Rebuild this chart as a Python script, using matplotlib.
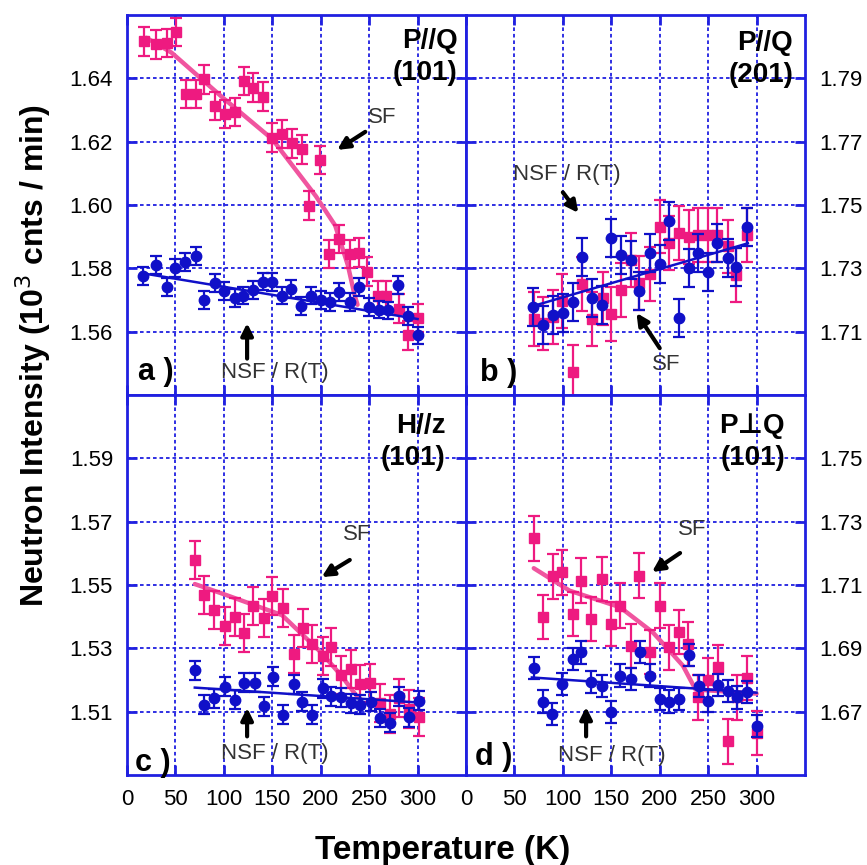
import numpy as np
import matplotlib
matplotlib.use("Agg")
import matplotlib.pyplot as plt

plt.rcParams['font.family'] = ['Liberation Sans', 'DejaVu Sans']

PINK = "#ee1a80"
PINK_FIT = "#f0559f"
BLUE = "#1010c8"
FRAME = "#2020e0"

# ---------- data (T in K, intensity in 10^3 cnts/min) ----------
# (a) P//Q (101)
a_sf_T = [18, 30, 41, 51, 61, 71, 80, 91, 101, 111, 121, 130, 140, 150, 160, 170,
          181, 188, 199, 209, 219, 230, 240, 248, 259, 267, 281, 290, 300]
a_sf_I = [1.6517, 1.6507, 1.6512, 1.6547, 1.6350, 1.6350, 1.6397, 1.6313, 1.6287,
          1.6293, 1.6392, 1.6371, 1.6342, 1.6213, 1.6224, 1.6195, 1.6176, 1.5998,
          1.6142, 1.5846, 1.5893, 1.5846, 1.5850, 1.5790, 1.5714, 1.5714, 1.5673,
          1.5588, 1.5643]
a_nsf_T = [17, 30, 41, 50, 60, 71, 79, 91, 100, 111, 120, 130, 140, 150, 160, 169,
           180, 190, 200, 210, 219, 230, 240, 250, 260, 269, 280, 290, 300]
a_nsf_I = [1.5775, 1.5811, 1.5740, 1.5800, 1.5821, 1.5840, 1.5700, 1.5754, 1.5728,
           1.5706, 1.5714, 1.5732, 1.5758, 1.5757, 1.5714, 1.5735, 1.5681, 1.5714,
           1.5700, 1.5694, 1.5725, 1.5694, 1.5740, 1.5678, 1.5670, 1.5667, 1.5748,
           1.5650, 1.5588]
a_sf_fit_T = [20, 46, 100, 150, 195, 215, 228, 235, 238]
a_sf_fit_I = [1.6528, 1.6481, 1.6336, 1.6208, 1.6028, 1.5935, 1.5810, 1.5715, 1.5685]
a_nsf_fit_T = [15, 300]
a_nsf_fit_I = [1.5785, 1.5640]

# (b) P//Q (201)
b_sf_T = [70, 80, 90, 99, 110, 120, 130, 141, 150, 160, 170, 179, 190, 200, 210,
          220, 230, 240, 250, 259, 270, 279, 290]
b_sf_I = [1.7140, 1.7126, 1.7147, 1.7197, 1.6974, 1.7250, 1.7140, 1.7205, 1.7155,
          1.7231, 1.7326, 1.7253, 1.7281, 1.7432, 1.7379, 1.7411, 1.7400, 1.7405,
          1.7405, 1.7405, 1.7369, 1.7279, 1.7405]
b_nsf_T = [69, 79, 90, 100, 110, 120, 130, 140, 150, 160, 170, 179, 190, 200, 210,
           220, 230, 240, 250, 259, 270, 279, 290]
b_nsf_I = [1.7179, 1.7121, 1.7152, 1.7158, 1.7195, 1.7337, 1.7205, 1.7184, 1.7397,
           1.7342, 1.7326, 1.7228, 1.7347, 1.7313, 1.7451, 1.7142, 1.7300, 1.7347,
           1.7289, 1.7379, 1.7332, 1.7305, 1.7432]
b_nsf_fit_T = [67, 291]
b_nsf_fit_I = [1.7179, 1.7379]

# (c) H//z (101)
c_sf_T = [70, 80, 90, 101, 111, 121, 130, 141, 150, 161, 172, 182, 191, 202, 211,
          221, 231, 241, 251, 261, 272, 281, 291, 301]
c_sf_I = [1.5578, 1.5469, 1.5422, 1.5370, 1.5400, 1.5350, 1.5435, 1.5396, 1.5466,
          1.5427, 1.5282, 1.5365, 1.5313, 1.5277, 1.5303, 1.5215, 1.5236, 1.5186,
          1.5190, 1.5127, 1.5093, 1.5144, 1.5110, 1.5084]
c_nsf_T = [70, 80, 90, 101, 111, 121, 132, 141, 151, 161, 172, 181, 191, 202, 211,
           221, 231, 241, 252, 261, 272, 281, 291, 301]
c_nsf_I = [1.5231, 1.5122, 1.5143, 1.5179, 1.5137, 1.5192, 1.5192, 1.5117, 1.5210,
           1.5091, 1.5186, 1.5132, 1.5091, 1.5174, 1.5148, 1.5145, 1.5127, 1.5122,
           1.5132, 1.5080, 1.5065, 1.5148, 1.5082, 1.5134]
c_sf_fit_T = [70, 100, 130, 160, 200, 221, 235, 241]
c_sf_fit_I = [1.5503, 1.5471, 1.5438, 1.5405, 1.5288, 1.5215, 1.5158, 1.5140]
c_nsf_fit_T = [70, 300]
c_nsf_fit_I = [1.5176, 1.5129]

# (d) P⊥Q (101)
d_sf_T = [70, 80, 90, 99, 110, 119, 129, 140, 150, 159, 170, 179, 190, 200, 210,
          220, 229, 240, 250, 260, 271, 280, 290, 300]
d_sf_I = [1.7247, 1.6998, 1.7127, 1.7140, 1.7008, 1.7114, 1.6993, 1.7119, 1.6977,
          1.7035, 1.6908, 1.7130, 1.6889, 1.7035, 1.6903, 1.6951, 1.6914, 1.6745,
          1.6800, 1.6840, 1.6606, 1.6745, 1.6807, 1.6632]
d_nsf_T = [70, 79, 89, 99, 110, 119, 129, 140, 150, 159, 170, 180, 190, 200, 210,
           220, 230, 241, 250, 260, 271, 280, 290, 300]
d_nsf_I = [1.6837, 1.6732, 1.6693, 1.6787, 1.6866, 1.6887, 1.6793, 1.6782, 1.6698,
           1.6814, 1.6803, 1.6889, 1.6814, 1.6740, 1.6732, 1.6740, 1.6879, 1.6782,
           1.6735, 1.6784, 1.6766, 1.6745, 1.6761, 1.6654]
d_sf_fit_T = [70, 107, 159, 193, 210, 224, 233, 237, 300]
d_sf_fit_I = [1.7153, 1.7082, 1.7030, 1.6950, 1.6893, 1.6845, 1.6793, 1.6770, 1.6757]
d_nsf_fit_T = [68, 300]
d_nsf_fit_I = [1.6808, 1.6760]

# error bars (approx. constant per series)
sf_err = {"a": 0.0045, "b": 0.0085, "c": 0.006, "d": 0.007}
nsf_err = {"a": 0.0028, "b": 0.006, "c": 0.003, "d": 0.0035}

ylims = {"a": (1.54, 1.66), "b": (1.69, 1.81), "c": (1.49, 1.61), "d": (1.65, 1.77)}
titles = {"a": "P//Q\n(101)", "b": "P//Q\n(201)", "c": "H//z\n(101)", "d": "P\u22a5Q\n(101)"}

# annotation positions (data coords): text, arrow tail, arrow head
sf_notes = {
    "a": ((263, 1.6275), (246, 1.6231), (217, 1.6174)),
    "b": ((207, 1.6995), (200, 1.7048), (176, 1.7159)),
    "c": ((238, 1.5658), (230, 1.5579), (201, 1.5525)),
    "d": ((234, 1.7274), (221, 1.7201), (192, 1.7141)),
}
nsf_notes = {
    "a": ((153, 1.5470), (124, 1.5515), (124, 1.5627)),
    "b": ((104, 1.7595), (100, 1.7540), (116, 1.7475)),
    "c": ((153, 1.4969), (124, 1.5022), (124, 1.5112)),
    "d": ((151, 1.6563), (124, 1.6622), (124, 1.6715)),
}
title_pos = {"a": (0.976, 0.966), "b": (0.965, 0.96), "c": (0.94, 0.953), "d": (0.941, 0.953)}
letter_pos = {"a": (0.032, 0.06), "b": (0.041, 0.058), "c": (0.024, 0.032), "d": (0.027, 0.047)}

panels = {
    "a": (a_sf_T, a_sf_I, a_nsf_T, a_nsf_I, a_sf_fit_T, a_sf_fit_I, a_nsf_fit_T, a_nsf_fit_I),
    "b": (b_sf_T, b_sf_I, b_nsf_T, b_nsf_I, None, None, b_nsf_fit_T, b_nsf_fit_I),
    "c": (c_sf_T, c_sf_I, c_nsf_T, c_nsf_I, c_sf_fit_T, c_sf_fit_I, c_nsf_fit_T, c_nsf_fit_I),
    "d": (d_sf_T, d_sf_I, d_nsf_T, d_nsf_I, d_sf_fit_T, d_sf_fit_I, d_nsf_fit_T, d_nsf_fit_I),
}


def plot_panel(ax, key, right_labels, bottom_labels):
    sfT, sfI, nT, nI, sfT_fit, sfI_fit, nT_fit, nI_fit = panels[key]

    if sfT_fit is not None:
        ax.plot(sfT_fit, sfI_fit, color=PINK_FIT, lw=3.2, zorder=3,
                solid_capstyle="round")
    ax.errorbar(sfT, sfI, yerr=sf_err[key], fmt="s", ms=7.5, color=PINK,
                ecolor=PINK, elinewidth=1.6, capsize=4, capthick=1.6, zorder=4)
    ax.plot(nT_fit, nI_fit, color=BLUE, lw=1.8, zorder=5)
    ax.errorbar(nT, nI, yerr=nsf_err[key], fmt="o", ms=7.5, color=BLUE,
                ecolor=BLUE, elinewidth=1.6, capsize=4, capthick=1.6, zorder=6)

    ax.set_xlim(0, 350)
    y0, y1 = ylims[key]
    ax.set_ylim(y0, y1)
    ax.set_xticks(np.arange(0, 301, 50))
    ax.set_yticks(np.round(np.arange(y0 + 0.02, y1 - 0.005, 0.02), 2))
    ax.yaxis.set_major_formatter(plt.FormatStrFormatter("%.2f"))

    ax.grid(True, color=FRAME, lw=1.3, linestyle=(0, (2.0, 1.6)), zorder=1)
    for s in ax.spines.values():
        s.set_color(FRAME)
        s.set_linewidth(2.0)
    ax.tick_params(direction="in", length=7, width=2, color=FRAME,
                   top=True, right=True, left=True, bottom=True,
                   labelsize=16, pad=10)
    if right_labels:
        ax.tick_params(labelleft=False, labelright=True)
    if not bottom_labels:
        ax.tick_params(labelbottom=False)

    tx, ty = title_pos[key]
    ax.text(tx, ty, titles[key], transform=ax.transAxes, ha="right", va="top",
            fontsize=20, fontweight="bold", linespacing=1.3, multialignment="right",
            zorder=8)
    lx, ly = letter_pos[key]
    ax.text(lx, ly, key + " )", transform=ax.transAxes, ha="left", va="center",
            fontsize=22, fontweight="bold", zorder=8)

    arrow = dict(arrowstyle="-|>,head_length=0.7,head_width=0.35", color="black",
                 lw=3, shrinkA=0, shrinkB=0)
    (stx, sty), tail, head = sf_notes[key]
    ax.text(stx, sty, "SF", ha="center", va="center", fontsize=16,
            color="#333333", zorder=8)
    ax.annotate("", xy=head, xytext=tail, arrowprops=arrow, zorder=8)
    (ntx, nty), tail, head = nsf_notes[key]
    ax.text(ntx, nty, "NSF / R(T)", ha="center", va="center", fontsize=16,
            color="#333333", zorder=8)
    ax.annotate("", xy=head, xytext=tail, arrowprops=arrow, zorder=8)


fig = plt.figure(figsize=(8.67, 8.65), dpi=100)
W, H = 867.0, 865.0
ax_w = 339 / W
ax_h = 380 / H
axes = {
    "a": fig.add_axes([127 / W, 1 - 395 / H, ax_w, ax_h]),
    "b": fig.add_axes([466 / W, 1 - 395 / H, ax_w, ax_h]),
    "c": fig.add_axes([127 / W, 1 - 775 / H, ax_w, ax_h]),
    "d": fig.add_axes([466 / W, 1 - 775 / H, ax_w, ax_h]),
}
plot_panel(axes["a"], "a", False, False)
plot_panel(axes["b"], "b", True, False)
plot_panel(axes["c"], "c", False, True)
plot_panel(axes["d"], "d", True, True)

fig.text(33 / W, 1 - 355 / H, "Neutron Intensity (10$^3$ cnts / min)",
         rotation=90, ha="center", va="center", fontsize=23, fontweight="bold")
fig.text(443 / W, 1 - 850 / H, "Temperature (K)", ha="center", va="center",
         fontsize=24, fontweight="bold")

fig.savefig("out.png", dpi=100)
